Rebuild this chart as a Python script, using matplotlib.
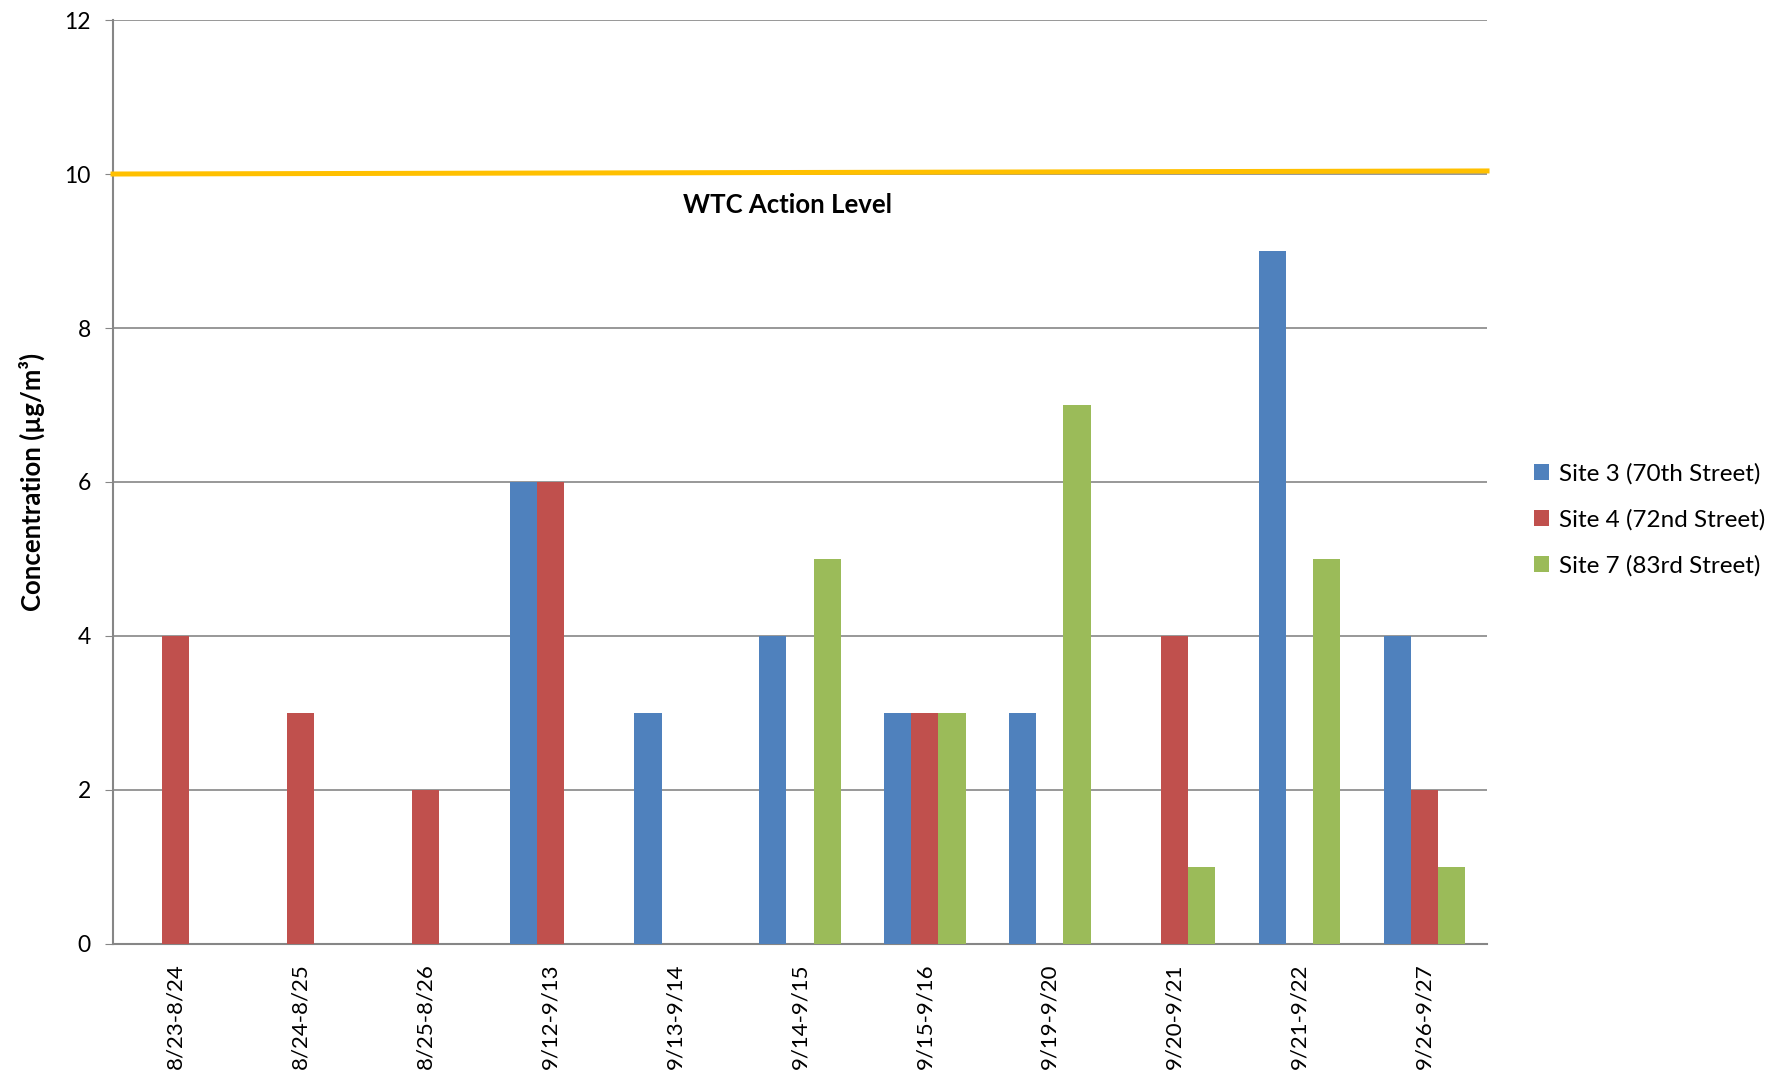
#!/usr/bin/env python3

import numpy as np
import matplotlib
import matplotlib.pyplot as plt

matplotlib.use('Agg')

plt.rcParams['font.family'] = ['Lato', 'DejaVu Sans']

periods = ['8/23-8/24', '8/24-8/25', '8/25-8/26', '9/12-9/13', '9/13-9/14',
           '9/14-9/15', '9/15-9/16', '9/19-9/20', '9/20-9/21', '9/21-9/22',
           '9/26-9/27']

# nan = no sample at that site for the period
site3 = [np.nan, np.nan, np.nan, 6, 3, 4, 3, 3, np.nan, 9, 4]
site4 = [4, 3, 2, 6, np.nan, np.nan, 3, np.nan, 4, np.nan, 2]
site7 = [np.nan, np.nan, np.nan, np.nan, np.nan, 5, 3, 7, 1, 5, 1]

series_names = ['Site 3 (70th Street)', 'Site 4 (72nd Street)', 'Site 7 (83rd Street)']
colours = ['#4F81BD', '#C0504D', '#9BBB59']

action_level = [10.0, 10.04]   # drawn line is very slightly tilted in the original

fig = plt.figure(figsize=(17.69, 10.83), dpi=100)
ax = fig.add_axes([0.0639, 0.1284, 0.7767, 0.8531])

x = np.arange(len(periods))
w = 0.217
bars = []
for k, (vals, col) in enumerate(zip([site3, site4, site7], colours)):
    b = ax.bar(x + (k - 1) * w, vals, width=w, color=col, label=series_names[k], zorder=3)
    bars.append(b)

ax.plot([-0.52, len(periods) - 0.48], action_level, color='#FFC000', lw=3.6,
        zorder=4, clip_on=False, solid_capstyle='butt')
ax.text(4.9, 9.6, 'WTC Action Level', ha='center', va='center',
        fontsize=18.5, fontweight='bold')

ax.set_xlim(-0.5, len(periods) - 0.5)
ax.set_ylim(0, 12)
ax.set_yticks(range(0, 13, 2))
ax.set_xticks(x)
ax.set_xticklabels(periods, rotation=90, fontsize=16)
ax.tick_params(axis='y', labelsize=16.5, color='#868686', length=6, pad=10)
ax.tick_params(axis='x', length=0, pad=14)

ax.grid(axis='y', color='#868686', lw=1.2, zorder=0)
for s in ['top', 'right']:
    ax.spines[s].set_visible(False)
for s in ['left', 'bottom']:
    ax.spines[s].set_color('#868686')
    ax.spines[s].set_linewidth(1.5)

ax.set_ylabel('Concentration (µg/m³)', fontsize=18.5, fontweight='bold', labelpad=14)

fig.legend(handles=bars, loc='center left', bbox_to_anchor=(0.855, 0.52),
           frameon=False, fontsize=17.5, handlelength=0.6, handleheight=0.6,
           handletextpad=0.4, labelspacing=1.0)

plt.savefig('out.png', dpi=100)
